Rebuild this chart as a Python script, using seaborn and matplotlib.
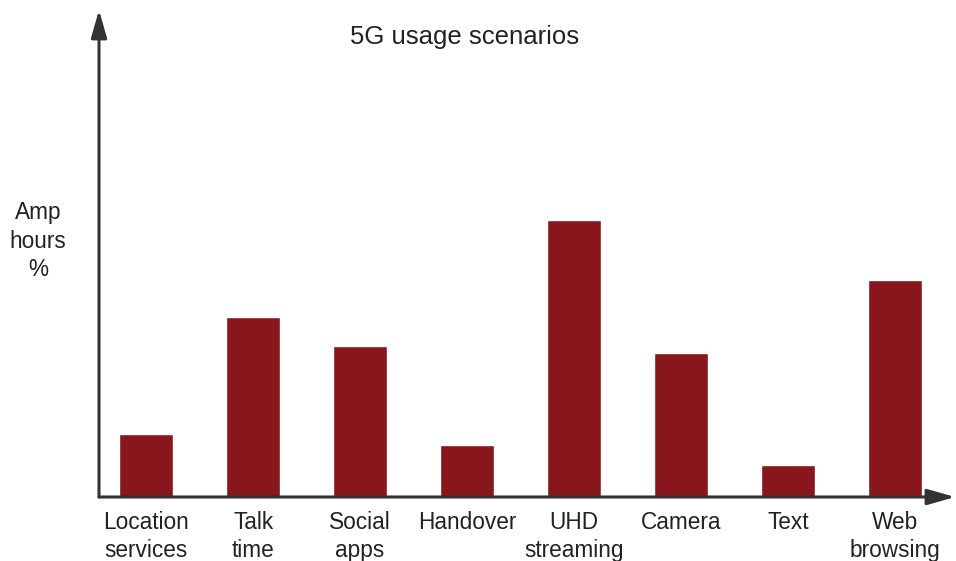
import matplotlib
matplotlib.use("Agg")
import matplotlib.pyplot as plt
import seaborn as sns
import pandas as pd

# values (relative amp-hour share, arbitrary units)
scenarios = ["Location\nservices", "Talk\ntime", "Social\napps", "Handover",
             "UHD\nstreaming", "Camera", "Text", "Web\nbrowsing"]
amp_hours = [6.3, 18.0, 15.1, 5.2, 27.7, 14.4, 3.2, 21.7]

df = pd.DataFrame({"scenario": scenarios, "amp": amp_hours})

sns.set_theme(style="white")
plt.rcParams["font.family"] = ["Liberation Sans", "DejaVu Sans"]

fig = plt.figure(figsize=(9.56, 5.61), dpi=100)
ax = fig.add_axes([99 / 956, 64 / 561, (955 - 99) / 956, (497 - 10) / 561])

sns.barplot(data=df, x="scenario", y="amp", color="#87171c", saturation=1,
            width=0.51, ax=ax)

ax.set_xlim(-0.44, 7.56)
ax.set_ylim(0, 48.7)
for s in ax.spines.values():
    s.set_visible(False)
ax.set_yticks([])
ax.tick_params(axis="x", length=0, pad=10, labelsize=16.3, labelcolor="#222222")
for t in ax.get_xticklabels():
    t.set_linespacing(1.28)
ax.set_xlabel("")
ax.set_ylabel("")

# axis arrows
arrow = dict(arrowstyle="-|>,head_length=1.4,head_width=0.4", color="#333333",
             lw=2.2, shrinkA=0, shrinkB=0)
ax.annotate("", xy=(0, 1), xytext=(0, 0), xycoords="axes fraction", arrowprops=arrow)
ax.annotate("", xy=(1, 0), xytext=(0, 0), xycoords="axes fraction", arrowprops=arrow)

fig.text(465 / 956, 1 - 37 / 561, "5G usage scenarios", ha="center", va="center",
         fontsize=18.5, color="#222222")
fig.text(38 / 956, 1 - 241 / 561, "Amp\nhours\n%", ha="center", va="center",
         fontsize=16.3, color="#222222", linespacing=1.28)

fig.savefig("out.png", dpi=100)
